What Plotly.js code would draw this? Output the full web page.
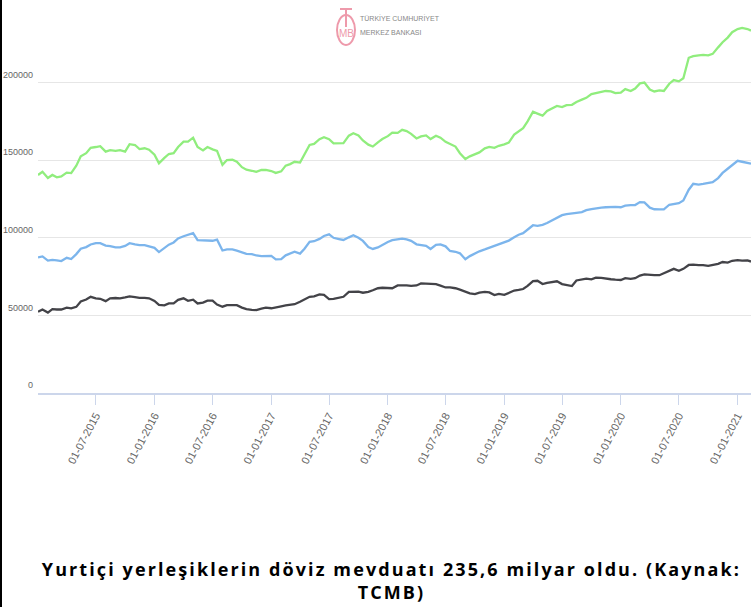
<!DOCTYPE html>
<html>
<head>
<meta charset="utf-8">
<script src="https://cdn.plot.ly/plotly-3.0.1.min.js"></script>
<style>
html,body{margin:0;padding:0;background:#fff;}
#chart{width:755px;height:607px;}
</style>
</head>
<body>
<div id="chart"></div>
<script>
const dates = [
"2015-01-01","2015-01-15","2015-02-01","2015-02-15","2015-03-01","2015-03-15","2015-04-01","2015-04-15","2015-05-01","2015-05-15",
"2015-06-01","2015-06-15","2015-07-01","2015-07-15","2015-08-01","2015-08-15","2015-09-01","2015-09-15","2015-10-01","2015-10-15",
"2015-11-01","2015-11-15","2015-12-01","2015-12-15","2016-01-01","2016-01-15","2016-02-01","2016-02-15","2016-03-01","2016-03-15",
"2016-04-01","2016-04-15","2016-05-01","2016-05-15","2016-06-01","2016-06-15","2016-07-01","2016-07-15","2016-08-01","2016-08-15",
"2016-09-01","2016-09-15","2016-10-01","2016-10-15","2016-11-01","2016-11-15","2016-12-01","2016-12-15","2017-01-01","2017-01-15",
"2017-02-01","2017-02-15","2017-03-01","2017-03-15","2017-04-01","2017-04-15","2017-05-01","2017-05-15","2017-06-01","2017-06-15",
"2017-07-01","2017-07-15","2017-08-01","2017-08-15","2017-09-01","2017-09-15","2017-10-01","2017-10-15","2017-11-01","2017-11-15",
"2017-12-01","2017-12-15","2018-01-01","2018-01-15","2018-02-01","2018-02-15","2018-03-01","2018-03-15","2018-04-01","2018-04-15",
"2018-05-01","2018-05-15","2018-06-01","2018-06-15","2018-07-01","2018-07-15","2018-08-01","2018-08-15","2018-09-01","2018-09-15",
"2018-10-01","2018-10-15","2018-11-01","2018-11-15","2018-12-01","2018-12-15","2019-01-01","2019-01-15","2019-02-01","2019-02-15",
"2019-03-01","2019-03-15","2019-04-01","2019-04-15","2019-05-01","2019-05-15","2019-06-01","2019-06-15","2019-07-01","2019-07-15",
"2019-08-01","2019-08-15","2019-09-01","2019-09-15","2019-10-01","2019-10-15","2019-11-01","2019-11-15","2019-12-01","2019-12-15",
"2020-01-01","2020-01-15","2020-02-01","2020-02-15","2020-03-01","2020-03-15","2020-04-01","2020-04-15","2020-05-01","2020-05-15",
"2020-06-01","2020-06-15","2020-07-01","2020-07-15","2020-08-01","2020-08-15","2020-09-01","2020-09-15","2020-10-01","2020-10-15",
"2020-11-01","2020-11-15","2020-12-01","2020-12-15","2021-01-01","2021-01-15","2021-02-01","2021-02-12"
];

const toplam = [140500,142500,138500,140500,139000,139500,142000,141700,146500,152500,
154500,158000,158500,159000,155500,156500,156000,156500,155500,160300,
159800,157200,157700,156800,153500,148000,151500,154000,154500,158500,
162000,162000,164500,158500,156300,158500,157000,156000,147000,150100,
150300,149000,145500,143900,143200,142500,143700,143700,143000,141800,
142800,146500,147500,149000,148500,153500,159800,160500,163500,164800,
163500,160800,161000,161000,165800,167400,166000,162700,160000,158800,
161500,163600,165500,167800,167600,169600,168800,167000,164000,165300,
166000,163600,165800,164500,161800,160200,158800,154500,150800,152500,
153600,155000,157600,158600,158000,159300,160200,161300,166500,168800,
170700,175000,181200,180000,178700,181800,183600,185000,184200,185500,
185700,187500,189000,190200,192600,193300,194000,194600,194300,193200,
193500,195800,194600,196200,199500,200000,195500,194300,195000,194600,
199300,201600,200800,202800,216000,217000,217500,217800,217500,218500,
222700,226000,229000,232500,234500,235200,234500,233500];

const gercekKisiler = [87400,88000,85300,85800,85500,85000,87100,86300,89500,93000,
94000,95700,96600,96600,95000,94700,93800,93800,94800,96500,
95800,95300,95300,94700,93500,90800,93500,95600,97000,99600,
101000,102000,103000,98500,98200,98100,98100,98800,91800,92500,
92500,91700,90600,89600,89500,88600,88200,88200,88400,86100,
86300,88700,90000,91000,89800,93000,97400,97800,99300,101200,
102200,100000,99200,98600,100300,101600,100000,98000,94000,92800,
93800,95500,97300,98500,99200,99500,99000,98000,95800,95300,
94800,92800,95500,95800,94500,91500,91000,90000,86200,88200,
90000,91300,92500,93500,94500,95500,96700,98200,100300,102000,
103000,105500,108100,107700,108300,109500,111200,112800,114600,115300,
116000,116100,116600,117800,118500,119100,119500,119700,120000,119900,
119700,120700,121100,121100,123000,122800,119400,118400,118300,118300,
121300,121800,122300,124000,131000,134800,134300,134700,135200,135800,
138500,141800,144500,146800,149600,149000,148200,147800];

const tuzelKisiler = [52300,53800,51800,54000,53800,53800,55000,54500,55500,59000,
60200,62000,61000,60700,59200,61000,61200,61000,61600,62300,
61800,61300,61300,61000,59300,56800,56500,57700,57700,60000,
61000,59400,60100,57700,58200,59500,59500,57000,55600,56600,
56600,56600,55000,54000,53600,53400,54400,55000,54600,55000,
55800,56400,57000,57200,58800,60200,62000,62300,63500,63200,
60500,60600,61200,62000,65200,65400,65300,64600,65200,66200,
67500,67800,67800,67500,69300,69500,69400,69000,69300,70600,
70500,70100,70100,69200,68000,68000,67500,66600,65000,64200,
63700,64700,65200,64800,63100,63900,63200,64500,66000,66400,
67000,69000,72100,72300,70200,71000,71800,72000,70200,69500,
68900,72500,73400,73700,73200,74300,74200,73600,73300,73000,
72800,74000,73600,74000,75700,76400,76000,75900,75900,77200,
79200,80000,78700,80000,82500,82700,82400,82400,81900,82500,
83200,84400,84000,85200,85600,85300,85400,84700];

const xTickVals = ["2015-07-01","2016-01-01","2016-07-01","2017-01-01","2017-07-01","2018-01-01","2018-07-01","2019-01-01","2019-07-01","2020-01-01","2020-07-01","2021-01-01"];
const xTickText = ["01-07-2015","01-01-2016","01-07-2016","01-01-2017","01-07-2017","01-01-2018","01-07-2018","01-01-2019","01-07-2019","01-01-2020","01-07-2020","01-01-2021"];
const yTickVals = [0,50000,100000,150000,200000,250000];
const yTickText = ["0","50000","100000","150000","200000",""];

const caption1 = "Yurtiçi yerleşiklerin döviz mevduatı 235,6 milyar oldu. (Kaynak:";
const caption2 = "TCMB)";

const sans = "Liberation Sans, Arial, sans-serif";

// plot area in pixels: left 38, right 751, top 5, bottom 393
const L = 38, R = 751, T = 5, B = 393;
const px = v => (v - L) / (R - L);
const py = v => (B - v) / (B - T);

const traces = [
  {x: dates, y: gercekKisiler, name: "Gerçek kişiler", type: "scatter", mode: "lines",
   line: {color: "#7cb5ec", width: 2.3}},
  {x: dates, y: tuzelKisiler, name: "Tüzel kişiler", type: "scatter", mode: "lines",
   line: {color: "#434348", width: 2.3}},
  {x: dates, y: toplam, name: "Toplam", type: "scatter", mode: "lines",
   line: {color: "#90ed7d", width: 2.3}}
];

const layout = {
  width: 755, height: 607,
  margin: {l: L, r: 755 - R, t: T, b: 607 - B},
  paper_bgcolor: "#ffffff", plot_bgcolor: "#ffffff",
  showlegend: false,
  xaxis: {
    type: "date", range: ["2015-01-01", "2021-02-12"],
    showgrid: false, zeroline: false,
    showline: true, linecolor: "#ccd6eb", linewidth: 2,
    ticks: "outside", ticklen: 10, tickcolor: "#ccd6eb", tickwidth: 1,
    tickmode: "array", tickvals: xTickVals, ticktext: xTickText,
    tickangle: -62,
    tickfont: {family: sans, size: 11, color: "#666666"}
  },
  yaxis: {
    range: [0, 250000], showgrid: true, gridcolor: "#e6e6e6", gridwidth: 1,
    zeroline: false, showline: false, ticks: "",
    tickmode: "array", tickvals: yTickVals, ticktext: yTickText,
    ticklabelshift: -8, ticklabelstandoff: 4,
    tickfont: {family: sans, size: 9, color: "#666666"}
  },
  shapes: [
    {type: "rect", xref: "paper", yref: "paper", x0: px(0), x1: px(2), y0: py(607), y1: py(0),
     fillcolor: "#000000", line: {width: 0}, layer: "above"},
    {type: "circle", xref: "paper", yref: "paper", x0: px(337), x1: px(355), y0: py(45), y1: py(15),
     line: {color: "#ee9aab", width: 2}, fillcolor: "rgba(0,0,0,0)", layer: "above"},
    {type: "line", xref: "paper", yref: "paper", x0: px(340), x1: px(352), y0: py(9), y1: py(9),
     line: {color: "#ee9aab", width: 2}},
    {type: "line", xref: "paper", yref: "paper", x0: px(346), x1: px(346), y0: py(9), y1: py(27),
     line: {color: "#ee9aab", width: 2}}
  ],
  annotations: [
    {xref: "paper", yref: "paper", x: px(346), y: py(34), text: "MB", showarrow: false,
     xanchor: "center", yanchor: "middle", font: {family: sans, size: 10, color: "#ee9aab"}},
    {xref: "paper", yref: "paper", x: px(358), y: py(18), text: "TÜRKİYE CUMHURİYET", showarrow: false,
     xanchor: "left", yanchor: "middle", font: {family: sans, size: 7, color: "#888888"}},
    {xref: "paper", yref: "paper", x: px(358), y: py(33), text: "MERKEZ BANKASI", showarrow: false,
     xanchor: "left", yanchor: "middle", font: {family: sans, size: 7, color: "#888888"}},
    {xref: "paper", yref: "paper", x: px(391), y: py(580), text: "<b>" + caption1 + "<br>" + caption2 + "</b>",
     showarrow: false, align: "center",
     xanchor: "center", yanchor: "middle", font: {family: "Open Sans, sans-serif", size: 18, color: "#000000"}}
  ]
};

Plotly.newPlot("chart", traces, layout, {staticPlot: true, displayModeBar: false}).then(function (gd) {
  // widen the caption tracking to match the reference caption width
  gd.querySelectorAll(".annotation-text").forEach(function (t) {
    if (t.textContent.indexOf("Kaynak") !== -1) {
      t.style.letterSpacing = "2.1px";
    }
  });
});
</script>
</body>
</html>
